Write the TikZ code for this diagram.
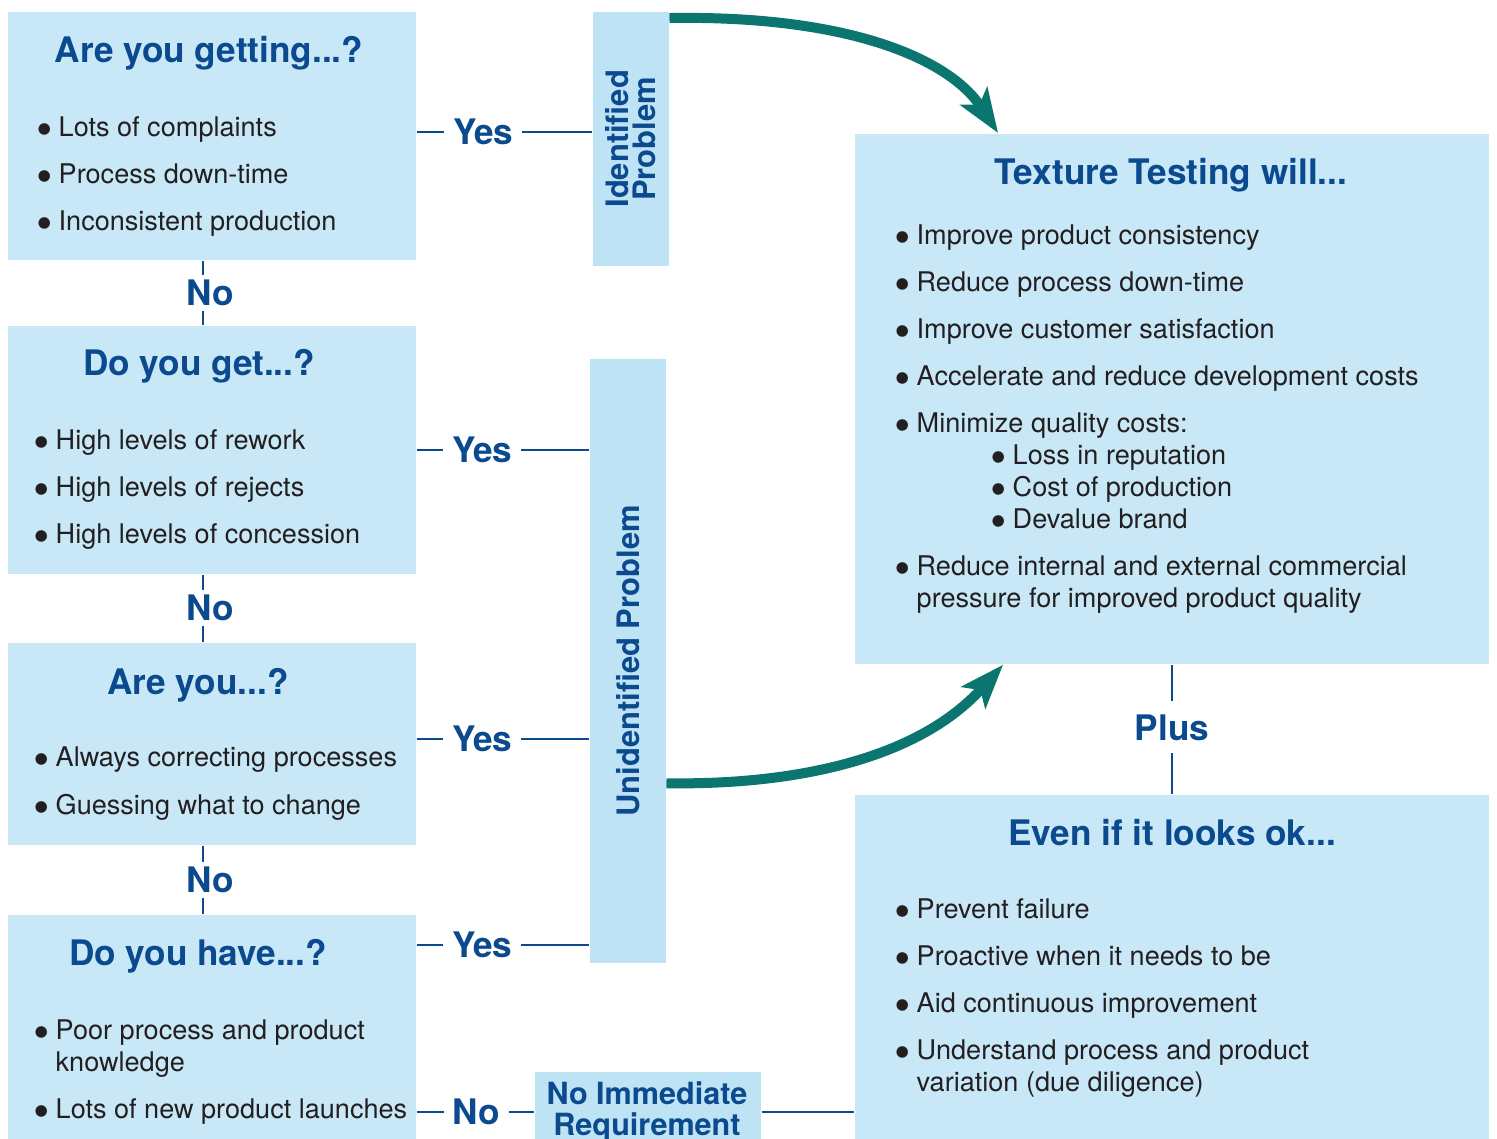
\documentclass[tikz,border=0pt]{standalone}
\usepackage{fontspec}
\setmainfont{TeX Gyre Heros}
\usetikzlibrary{arrows.meta,positioning}

\definecolor{boxblue}{HTML}{C8E8F8}
\definecolor{barblue}{HTML}{BEE3F5}
\definecolor{inkblue}{HTML}{0B4A8E}
\definecolor{bodyink}{HTML}{231F20}
\definecolor{arrowteal}{HTML}{0B7570}

\newcommand{\bul}{\llap{$\bullet$\hspace{0.07cm}}}

\tikzset{
    qbox/.style={fill=boxblue, anchor=north west, inner sep=0pt},
    bar/.style={fill=barblue, anchor=north west, inner sep=0pt},
    ttl/.style={anchor=base, inner sep=0pt, text=inkblue,
        font=\fontsize{10pt}{12pt}\selectfont\bfseries},
    item/.style={anchor=base west, inner sep=0pt, text=bodyink,
        font=\fontsize{7.7pt}{9pt}\selectfont},
    rot/.style={rotate=90, align=center, inner sep=0pt, text=inkblue,
        font=\fontsize{8.8pt}{7.7pt}\selectfont\bfseries},
    link/.style={draw=inkblue, line width=0.7pt},
    lbl/.style={fill=white, text=inkblue, inner xsep=0.09cm, inner ysep=0.05cm,
        font=\fontsize{10pt}{12pt}\selectfont\bfseries},
    flow/.style={draw=arrowteal, line width=0.1cm,
        -{Stealth[length=0.44cm, width=0.32cm, inset=0.1cm]}},
}

\begin{document}
\begin{tikzpicture}[x=0.01cm, y=-0.01cm]
    \useasboundingbox (0,0) rectangle (1497,1138);
    \clip (0,0) rectangle (1497,1138);

    % Question boxes on the left
    \node[qbox, minimum width=4.08cm, minimum height=2.48cm] (q1) at (7,11) {};
    \node[qbox, minimum width=4.08cm, minimum height=2.48cm] (q2) at (7,325) {};
    \node[qbox, minimum width=4.08cm, minimum height=2.02cm] (q3) at (7,642) {};
    \node[qbox, minimum width=4.08cm, minimum height=2.40cm] (q4) at (7,914) {};

    % Problem bars
    \node[bar, minimum width=0.76cm, minimum height=2.54cm] (idp) at (592,11) {};
    \node[bar, minimum width=0.76cm, minimum height=6.04cm] (unidp) at (589,358) {};
    \node[bar, minimum width=2.26cm, minimum height=0.90cm] (noreq) at (534,1071) {};
    \node[rot] (idpt) at (idp.center) {Identified\\Problem};
    \node[rot] (unidpt) at (unidp.center) {Unidentified Problem};
    \node[anchor=north, align=center, inner sep=0pt, text=inkblue,
        font=\fontsize{8.7pt}{8.8pt}\selectfont\bfseries] (noreqt) at (647,1081)
        {No Immediate\\Requirement};

    % Result boxes on the right
    \node[qbox, minimum width=6.34cm, minimum height=5.30cm] (tex) at (854,133) {};
    \node[qbox, minimum width=6.34cm, minimum height=3.44cm] (even) at (854,794) {};

    % Titles
    \node[ttl] (q1t) at (209,62) {Are you getting...?};
    \node[ttl] (q2t) at (199,375) {Do you get...?};
    \node[ttl] (q3t) at (198,694) {Are you...?};
    \node[ttl] (q4t) at (198,965) {Do you have...?};
    \node[ttl] (text) at (1171,184) {Texture Testing will...};
    \node[ttl] (event) at (1172,845) {Even if it looks ok...};

    % Bullet lists
    \foreach \txt/\y [count=\i] in {\bul Lots of complaints/136,
            \bul Process down-time/183, \bul Inconsistent production/230}
        \node[item] (q1-\i) at (58,\y) {\txt};
    \foreach \txt/\y [count=\i] in {\bul High levels of rework/449,
            \bul High levels of rejects/496, \bul High levels of concession/543}
        \node[item] (q2-\i) at (55,\y) {\txt};
    \foreach \txt/\y [count=\i] in {\bul Always correcting processes/766,
            \bul Guessing what to change/814}
        \node[item] (q3-\i) at (55,\y) {\txt};
    \foreach \txt/\y [count=\i] in {\bul Poor process and product/1039,
            knowledge/1071, \bul Lots of new product launches/1118}
        \node[item] (q4-\i) at (55,\y) {\txt};
    \foreach \txt/\y [count=\i] in {\bul Improve product consistency/244,
            \bul Reduce process down-time/291, \bul Improve customer satisfaction/338,
            \bul Accelerate and reduce development costs/385,
            \bul Minimize quality costs:/432,
            \bul Reduce internal and external commercial/575,
            pressure for improved product quality/607}
        \node[item] (tex-\i) at (916,\y) {\txt};
    \foreach \txt/\y [count=\i] in {\bul Loss in reputation/464,
            \bul Cost of production/496, \bul Devalue brand/528}
        \node[item] (sub-\i) at (1012,\y) {\txt};
    \foreach \txt/\y [count=\i] in {\bul Prevent failure/918,
            \bul Proactive when it needs to be/965, \bul Aid continuous improvement/1012,
            \bul Understand process and product/1059, variation (due diligence)/1091}
        \node[item] (even-\i) at (916,\y) {\txt};

    % Yes / No connectors
    \draw[link] (q1.east |- 0,132) -- node[lbl, pos=0.38] (yes1) {Yes} (idp.west |- 0,132);
    \draw[link] (q2.east |- 0,450) -- node[lbl, pos=0.38] (yes2) {Yes} (unidp.west |- 0,450);
    \draw[link] (q3.east |- 0,739) -- node[lbl, pos=0.38] (yes3) {Yes} (unidp.west |- 0,739);
    \draw[link] (q4.east |- 0,945) -- node[lbl, pos=0.38] (yes4) {Yes} (unidp.west |- 0,945);
    \draw[link] (203,0 |- q1.south) -- node[lbl, xshift=0.07cm] (no1) {No} (203,0 |- q2.north);
    \draw[link] (203,0 |- q2.south) -- node[lbl, xshift=0.07cm] (no2) {No} (203,0 |- q3.north);
    \draw[link] (203,0 |- q3.south) -- node[lbl, xshift=0.07cm] (no3) {No} (203,0 |- q4.north);
    \coordinate (nb) at (q4.east |- 0,1112);
    \draw[link] (nb) -- node[lbl, pos=0.51] (no4) {No} (nb -| noreq.west);
    \draw[link] (nb -| noreq.east) -- (nb -| even.west);
    \draw[link] (tex.south) -- node[lbl, inner ysep=0.13cm, yshift=0.02cm] (plus) {Plus} (even.north);

    % Curved arrows
    \draw[flow] ([yshift=-0.07cm]idp.north east) .. controls +(182,-3) and +(-48,-73)
        .. ([xshift=1.44cm]tex.north west);
    \draw[flow] ([yshift=-4.25cm]unidp.north east) .. controls +(135,2) and +(-83,92)
        .. ([xshift=1.49cm]tex.south west);
\end{tikzpicture}
\end{document}
